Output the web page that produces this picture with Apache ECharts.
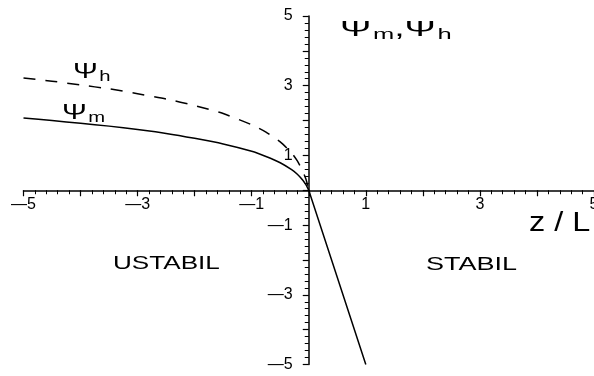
<!DOCTYPE html>
<html>
<head>
<meta charset="utf-8">
<script src="https://cdn.jsdelivr.net/npm/echarts@6/dist/echarts.min.js"></script>
<style>
  html, body { margin: 0; padding: 0; background: #fff; }
  #chart { width: 594px; height: 376px; }
</style>
</head>
<body>
<div id="chart"></div>
<script>
// Stability correction functions against z/L
const zetaUnstable = [-5, -4.5, -4, -3.5, -3, -2.5, -2, -1.5, -1, -0.75, -0.5, -0.3, -0.2, -0.1, -0.05, -0.02, 0];
const psiM = [2.07, 2.00, 1.92, 1.84, 1.74, 1.63, 1.49, 1.33, 1.12, 0.97, 0.79, 0.59, 0.46, 0.28, 0.16, 0.07, 0];
const psiH = [3.22, 3.13, 3.02, 2.91, 2.77, 2.62, 2.43, 2.20, 1.88, 1.67, 1.39, 1.07, 0.84, 0.53, 0.32, 0.14, 0];
const zetaStable = [0, 1];
const psiStable = [0, -5];
const labelledTicks = [-5, -3, -1, 1, 3, 5];

const FONT = '"Liberation Sans", Arial, sans-serif';

// long dash for negative tick values
function fmtNum(v) {
  return v < 0 ? '\u2014' + (-v) : String(v);
}

const psiMData = zetaUnstable.map((z, i) => [z, psiM[i]])
  .concat(zetaStable.slice(1).map((z, i) => [z, psiStable[i + 1]]));
const psiHData = zetaUnstable.map((z, i) => [z, psiH[i]]);

// tick labels sit next to the crossing axes: [x, y, isXAxis]
const tickPts = labelledTicks.map(v => [v, 0, 1]).concat(labelledTicks.map(v => [0, v, 0]));

const axisCommon = {
  type: 'value',
  min: -5,
  max: 5,
  interval: 1,
  axisLine: { onZero: true, lineStyle: { color: '#000', width: 1.5 } },
  axisTick: { show: true, length: 6, lineStyle: { color: '#000', width: 1.2 } },
  minorTick: { show: true, splitNumber: 5, length: 4, lineStyle: { color: '#000', width: 1 } },
  splitLine: { show: false },
  minorSplitLine: { show: false },
  axisLabel: { show: false }
};

const chart = echarts.init(document.getElementById('chart'), null, { renderer: 'canvas' });

const psiRich = {
  p: { fontFamily: FONT, fontSize: 22, color: '#000' },
  s: { fontFamily: FONT, fontSize: 15, color: '#000', verticalAlign: 'bottom', padding: [9, 0, 0, 1] }
};

chart.setOption({
  animation: false,
  backgroundColor: '#fff',
  grid: { left: 23.5, right: -2.5, top: 16, bottom: 11.5, containLabel: false },
  xAxis: axisCommon,
  yAxis: axisCommon,
  series: [
    {
      name: 'psi_m',
      type: 'line',
      data: psiMData,
      showSymbol: false,
      smooth: 0.2,
      lineStyle: { color: '#000', width: 1.5 },
      z: 3
    },
    {
      name: 'psi_h',
      type: 'line',
      data: psiHData,
      showSymbol: false,
      smooth: 0.2,
      lineStyle: { color: '#000', width: 1.5, type: [12, 10] },
      z: 3
    },
    {
      name: 'tick labels',
      type: 'custom',
      data: tickPts,
      silent: true,
      renderItem: function (params, api) {
        const isX = api.value(2) === 1;
        const pt = api.coord([api.value(0), api.value(1)]);
        const v = isX ? api.value(0) : api.value(1);
        return {
          type: 'text',
          x: isX ? pt[0] : pt[0] - 16,
          y: isX ? pt[1] + 6 : pt[1],
          style: {
            text: fmtNum(v),
            font: '16px ' + FONT,
            fill: '#000',
            align: isX ? 'center' : 'right',
            verticalAlign: isX ? 'top' : 'middle'
          }
        };
      }
    }
  ],
  graphic: [
    {
      type: 'text', x: 340, y: 18, scaleX: 1.7,
      style: { text: '{p|\u03A8}{s|m}{p|,}{p|\u03A8}{s|h}', rich: psiRich }
    },
    {
      type: 'text', x: 73, y: 60, scaleX: 1.35,
      style: { text: '{p|\u03A8}{s|h}', rich: psiRich }
    },
    {
      type: 'text', x: 62, y: 101, scaleX: 1.35,
      style: { text: '{p|\u03A8}{s|m}', rich: psiRich }
    },
    {
      type: 'text', x: 529, y: 210, scaleX: 1.2,
      style: { text: 'z / L', fontFamily: FONT, fontSize: 27, fill: '#000' }
    },
    {
      type: 'text', x: 113, y: 255, scaleX: 1.45,
      style: { text: 'USTABIL', fontFamily: FONT, fontSize: 18, fill: '#000' }
    },
    {
      type: 'text', x: 426, y: 256, scaleX: 1.5,
      style: { text: 'STABIL', fontFamily: FONT, fontSize: 18, fill: '#000' }
    }
  ]
});
</script>
</body>
</html>
